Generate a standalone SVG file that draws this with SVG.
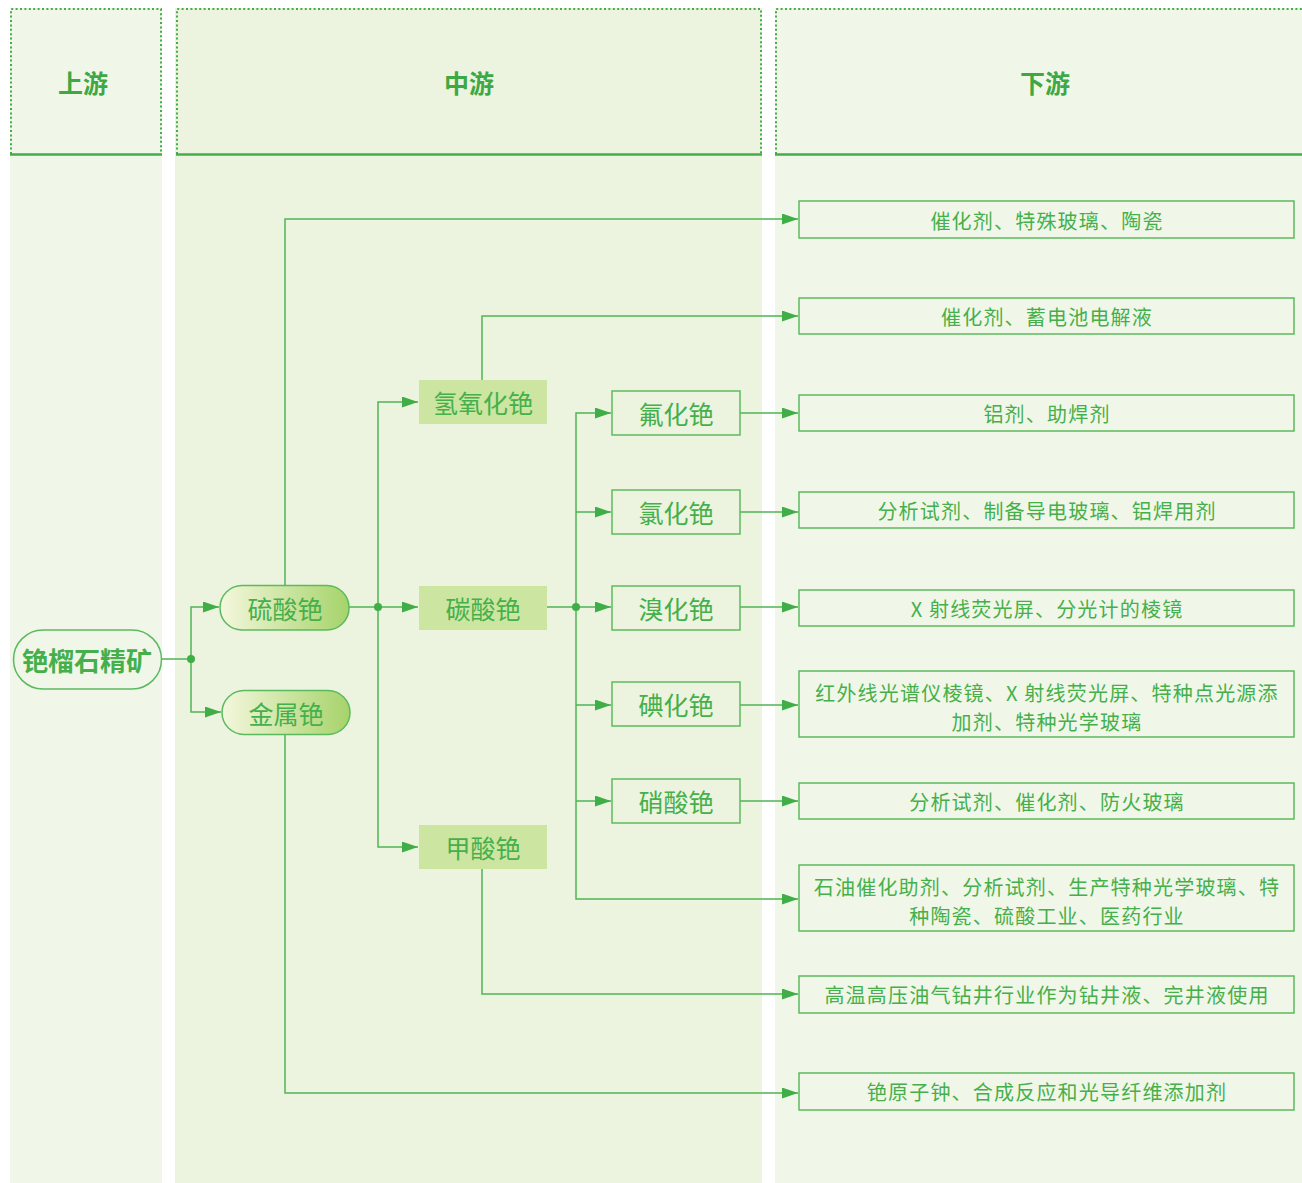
<svg xmlns="http://www.w3.org/2000/svg" width="1302" height="1183" viewBox="0 0 1302 1183">
<style>
.t{font-family:"Noto Sans CJK SC","Noto Sans",sans-serif;fill:#45b04b;text-anchor:middle;dominant-baseline:central}
.h{font-size:25px;font-weight:bold;fill:#3ea844}
.m{font-size:25px}
.r{font-size:20px;letter-spacing:1.2px}
.ln{fill:none;stroke:#4fb454;stroke-width:1.5}
.box{fill:none;stroke:#5cba5e;stroke-width:1.5}
.dot{fill:none;stroke:#44ad4a;stroke-width:2;stroke-dasharray:2 2.4}
.sol{stroke:#44ad4a;stroke-width:2.5}
</style>
<defs>
<linearGradient id="g" x1="0" y1="0" x2="1" y2="0">
<stop offset="0" stop-color="#f4f7dd"/>
<stop offset="1" stop-color="#a6d36a"/>
</linearGradient>
<marker id="a" viewBox="0 0 16 11" refX="16" refY="5.5" markerWidth="16" markerHeight="11" markerUnits="userSpaceOnUse" orient="auto">
<path d="M0,0L16,5.5L0,11z" fill="#3fae46"/>
</marker>
</defs>
<rect width="1302" height="1183" fill="#fff"/>
<g id="columns">
<rect x="10" y="8" width="152" height="1175" fill="#f1f7e8"/>
<rect x="175" y="8" width="587" height="1175" fill="#ecf4df"/>
<rect x="775" y="8" width="527" height="1175" fill="#f1f7e8"/>
<path class="dot" d="M11,154V9H161V154"/>
<path class="dot" d="M177,154V9H761V154"/>
<path class="dot" d="M776,154V9H1302"/>
<path class="sol" d="M10,154.5H162M176,154.5H762M775,154.5H1302"/>
<text class="t h" x="83" y="81.5">上游</text>
<text class="t h" x="469" y="81.5">中游</text>
<text class="t h" x="1045" y="81.5">下游</text>
</g>
<g id="connectors">
<path class="ln" d="M161,659H191"/>
<path class="ln" d="M191,659V607H219" marker-end="url(#a)"/>
<path class="ln" d="M191,659V712H221" marker-end="url(#a)"/>
<path class="ln" d="M349,607H378"/>
<path class="ln" d="M378,607V402H418" marker-end="url(#a)"/>
<path class="ln" d="M378,607H418" marker-end="url(#a)"/>
<path class="ln" d="M378,607V847H418" marker-end="url(#a)"/>
<path class="ln" d="M285,585V219H798" marker-end="url(#a)"/>
<path class="ln" d="M482,380V316H798" marker-end="url(#a)"/>
<path class="ln" d="M285,735V1093H798" marker-end="url(#a)"/>
<path class="ln" d="M482,869V994H798" marker-end="url(#a)"/>
<path class="ln" d="M547,607H576"/>
<path class="ln" d="M576,607V413H611" marker-end="url(#a)"/>
<path class="ln" d="M576,512H611" marker-end="url(#a)"/>
<path class="ln" d="M576,607H611" marker-end="url(#a)"/>
<path class="ln" d="M576,607V899H798" marker-end="url(#a)"/>
<path class="ln" d="M576,705H611" marker-end="url(#a)"/>
<path class="ln" d="M576,801H611" marker-end="url(#a)"/>
<path class="ln" d="M740,413H798" marker-end="url(#a)"/>
<path class="ln" d="M740,512H798" marker-end="url(#a)"/>
<path class="ln" d="M740,607H798" marker-end="url(#a)"/>
<path class="ln" d="M740,705H798" marker-end="url(#a)"/>
<path class="ln" d="M740,801H798" marker-end="url(#a)"/>
<circle cx="191" cy="659" r="4" fill="#3fae46"/>
<circle cx="378" cy="607" r="4" fill="#3fae46"/>
<circle cx="576" cy="607" r="4" fill="#3fae46"/>
</g>
<g id="n-ore"><rect x="13.5" y="630" width="148" height="59" rx="29.5" fill="#f1f7e8" stroke="#5cba5e" stroke-width="1.5"/><text class="t" x="87" y="659" font-size="26" font-weight="bold" fill="#3ea844">铯榴石精矿</text></g>
<g id="n-sulfate"><rect x="220" y="585.5" width="129" height="44.5" rx="22" fill="url(#g)" stroke="#5cba5e" stroke-width="1.5"/><text class="t m" x="285" y="608">硫酸铯</text></g>
<g id="n-metal"><rect x="222" y="690.5" width="128" height="44" rx="22" fill="url(#g)" stroke="#5cba5e" stroke-width="1.5"/><text class="t m" x="286" y="713">金属铯</text></g>
<g id="n-hydroxide"><rect x="419" y="380" width="128" height="44" fill="#cce5a1"/><text class="t m" x="483" y="402">氢氧化铯</text></g>
<g id="n-carbonate"><rect x="419" y="586" width="128" height="44" fill="#cce5a1"/><text class="t m" x="483" y="608">碳酸铯</text></g>
<g id="n-formate"><rect x="419" y="825" width="128" height="44" fill="#cce5a1"/><text class="t m" x="483" y="847">甲酸铯</text></g>
<g id="n-fluoride"><rect class="box" x="612" y="391" width="128" height="44"/><text class="t m" x="676" y="413">氟化铯</text></g>
<g id="n-chloride"><rect class="box" x="612" y="490" width="128" height="44"/><text class="t m" x="676" y="512">氯化铯</text></g>
<g id="n-bromide"><rect class="box" x="612" y="586" width="128" height="44"/><text class="t m" x="676" y="608">溴化铯</text></g>
<g id="n-iodide"><rect class="box" x="612" y="682" width="128" height="44"/><text class="t m" x="676" y="704">碘化铯</text></g>
<g id="n-nitrate"><rect class="box" x="612" y="779" width="128" height="44"/><text class="t m" x="676" y="801">硝酸铯</text></g>
<g id="u1"><rect class="box" x="799" y="201" width="495" height="37"/><text class="t r" x="1047" y="220">催化剂、特殊玻璃、陶瓷</text></g>
<g id="u2"><rect class="box" x="799" y="298" width="495" height="36"/><text class="t r" x="1047" y="316">催化剂、蓄电池电解液</text></g>
<g id="u3"><rect class="box" x="799" y="395" width="495" height="36"/><text class="t r" x="1047" y="413">铝剂、助焊剂</text></g>
<g id="u4"><rect class="box" x="799" y="492" width="495" height="36"/><text class="t r" x="1047" y="510">分析试剂、制备导电玻璃、铝焊用剂</text></g>
<g id="u5"><rect class="box" x="799" y="590" width="495" height="36"/><text class="t r" x="1047" y="608">X 射线荧光屏、分光计的棱镜</text></g>
<g id="u6"><rect class="box" x="799" y="671" width="495" height="66"/><text class="t r" x="1047" y="692">红外线光谱仪棱镜、X 射线荧光屏、特种点光源添</text><text class="t r" x="1047" y="721.5">加剂、特种光学玻璃</text></g>
<g id="u7"><rect class="box" x="799" y="783" width="495" height="36"/><text class="t r" x="1047" y="801">分析试剂、催化剂、防火玻璃</text></g>
<g id="u8"><rect class="box" x="799" y="865" width="495" height="66"/><text class="t r" x="1047" y="886">石油催化助剂、分析试剂、生产特种光学玻璃、特</text><text class="t r" x="1047" y="915.5">种陶瓷、硫酸工业、医药行业</text></g>
<g id="u9"><rect class="box" x="799" y="976" width="495" height="37"/><text class="t r" x="1047" y="994">高温高压油气钻井行业作为钻井液、完井液使用</text></g>
<g id="u10"><rect class="box" x="799" y="1073" width="495" height="37"/><text class="t r" x="1047" y="1091">铯原子钟、合成反应和光导纤维添加剂</text></g>
</svg>
